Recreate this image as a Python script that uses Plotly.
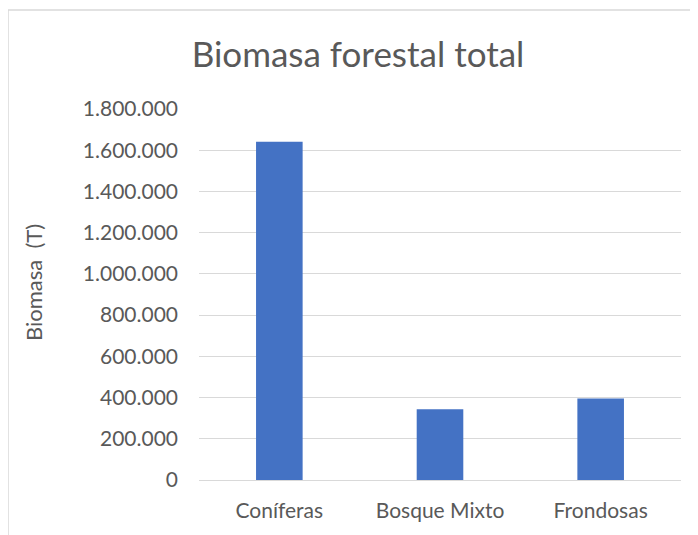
import plotly.graph_objects as go

categories = ["Coníferas", "Bosque Mixto", "Frondosas"]
biomasa = [1641000, 343000, 396000]
y_ticks = [0, 200000, 400000, 600000, 800000, 1000000, 1200000, 1400000, 1600000, 1800000]

# the page's body has an 8px margin, so figure coords = screen coords - 8
OFF = 8
W, H = 698 + OFF, 535 + OFF
ml, mr, mt, mb = 199 - OFF, 17 + 2 * OFF, 109 - OFF, 55 + 2 * OFF
pw, ph = W - ml - mr, H - mt - mb

def px_x(x):
    return (x - OFF - ml) / pw

def px_y(y):
    return (H - mb - (y - OFF)) / ph

fig = go.Figure(go.Bar(
    x=categories, y=biomasa, marker=dict(color="#4472C4", line=dict(width=0)),
))

font_fam = "Lato, 'Open Sans', sans-serif"
fig.update_layout(
    width=W, height=H,
    margin=dict(l=ml, r=mr, t=mt, b=mb),
    paper_bgcolor="white", plot_bgcolor="white",
    separators=",.",
    bargap=0.71,
    showlegend=False,
    title=dict(text="Biomasa forestal total", x=(358 - OFF) / W, xanchor="center",
               y=1 - (55 - OFF) / H, yanchor="middle",
               font=dict(family=font_fam, size=35, color="#595959")),
    font=dict(family=font_fam, color="#595959"),
)
fig.update_yaxes(
    range=[0, 1800000], tickvals=y_ticks, tickformat=",d",
    showgrid=True, gridcolor="#d9d9d9", gridwidth=1,
    zeroline=True, zerolinecolor="#d9d9d9", zerolinewidth=1,
    showline=False, ticks="", ticklabelstandoff=20,
    tickfont=dict(size=21, color="#595959"),
    automargin=False,
)
fig.update_xaxes(
    showgrid=False, showline=False, ticks="",
    tickfont=dict(size=21, color="#595959"), ticklabelstandoff=16,
    automargin=False,
)
fig.add_annotation(text="Biomasa  (T)", xref="paper", yref="paper",
                   x=px_x(33), y=px_y(283), textangle=-90, showarrow=False,
                   xanchor="center", yanchor="middle",
                   font=dict(family=font_fam, size=22, color="#595959"))
fig.add_shape(type="line", xref="paper", yref="paper",
              x0=px_x(8), x1=px_x(706), y0=px_y(10), y1=px_y(10),
              line=dict(color="#d9d9d9", width=1.5))
fig.add_shape(type="line", xref="paper", yref="paper",
              x0=px_x(8), x1=px_x(8), y0=px_y(10), y1=px_y(543),
              line=dict(color="#d9d9d9", width=1.5))

fig.write_html("out.html")
